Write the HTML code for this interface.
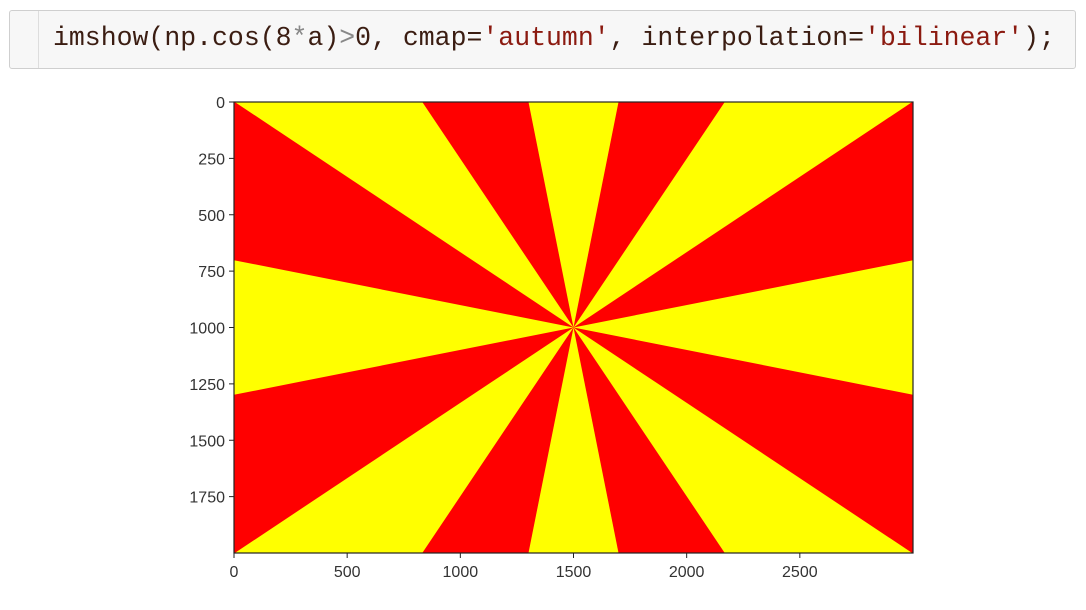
<!DOCTYPE html>
<html><head><meta charset="utf-8"><style>
html,body{margin:0;width:1086px;height:610px;overflow:hidden}
body{background:#fff;position:relative;font-family:"Liberation Sans",sans-serif}
#cell{position:absolute;left:9px;top:10px;width:1067px;height:59px;background:#f7f7f7;border:1px solid #cfcfcf;border-radius:3px;box-sizing:border-box}
#gut{position:absolute;left:28px;top:0;width:1px;height:100%;background:#ddd}
#code{position:absolute;left:43px;top:12px;font-family:"Liberation Mono",monospace;font-size:26.5px;color:#3b1d12;white-space:pre}
.op{color:#888}.str{color:#8b1a10}
#chart{position:absolute;left:0;top:0;display:block}
</style></head><body>
<div id="cell"><div id="gut"></div>
<div id="code">imshow(np.cos(8<span class="op">*</span>a)<span class="op">&gt;</span>0, cmap=<span class="str">'autumn'</span>, interpolation=<span class="str">'bilinear'</span>);</div></div>
<svg id="chart" width="1086" height="610"></svg>
<script>
const imgWidth = 3000;
const imgHeight = 2000;
const centerX = 1500;
const centerY = 1000;
const frequency = 8;
const xTicks = [0, 500, 1000, 1500, 2000, 2500];
const yTicks = [0, 250, 500, 750, 1000, 1250, 1500, 1750];
const NS = "http://www.w3.org/2000/svg";
const L = 234, R = 913, T = 102, B = 553;
const sx = v => L + v / imgWidth * (R - L);
const sy = v => T + v / imgHeight * (B - T);
const svg = document.getElementById('chart');
function mk(tag, attrs) { const e = document.createElementNS(NS, tag); for (const k in attrs) e.setAttribute(k, attrs[k]); svg.appendChild(e); return e; }
const bg = mk('rect', { x: L, y: T, width: R - L, height: B - T, fill: '#ff0000' });


function rayHit(a) {
  const dx = Math.cos(a), dy = Math.sin(a);
  let t = Infinity;
  if (dx > 1e-9) t = Math.min(t, (imgWidth - centerX) / dx);
  if (dx < -1e-9) t = Math.min(t, (0 - centerX) / dx);
  if (dy > 1e-9) t = Math.min(t, (imgHeight - centerY) / dy);
  if (dy < -1e-9) t = Math.min(t, (0 - centerY) / dy);
  return [centerX + t * dx, centerY + t * dy];
}
const corners = [[imgWidth, imgHeight], [0, imgHeight], [0, 0], [imgWidth, 0]];
const norm = a => { while (a < 0) a += 2 * Math.PI; while (a >= 2 * Math.PI) a -= 2 * Math.PI; return a; };
const step = Math.PI / frequency;
for (let k = 0; k < frequency; k++) {
  const mid = k * 2 * Math.PI / frequency;
  const a0 = mid - step / 2, a1 = mid + step / 2;
  const pts = [[centerX, centerY], rayHit(a0)];
  const cs = corners.map(c => [c, norm(Math.atan2(c[1] - centerY, c[0] - centerX) - a0)])
    .filter(o => o[1] > 0 && o[1] < step).sort((p, q) => p[1] - q[1]);
  cs.forEach(o => pts.push(o[0]));
  pts.push(rayHit(a1));
  const p = document.createElementNS(NS, 'polygon');
  p.setAttribute('points', pts.map(q => sx(q[0]) + ',' + sy(q[1])).join(' '));
  p.setAttribute('fill', '#ffff00');
  
  
  svg.appendChild(p);
}
const fr = mk('rect', { x: L, y: T, width: R - L, height: B - T, fill: 'none', stroke: '#222', 'stroke-width': 1.2 });


xTicks.forEach(v => {
  const x = sx(v);
  const t = mk('line', { x1: x, x2: x, y1: B, y2: B + 5, stroke: '#222' });
  
  
  const tx = mk('text', { x: x, y: B + 24, 'text-anchor': 'middle', 'font-size': 16, fill: '#333' });
  tx.textContent = v;
  
  
});
yTicks.forEach(v => {
  const y = sy(v);
  const t = mk('line', { x1: L - 5, x2: L, y1: y, y2: y, stroke: '#222' });
  
  
  const tx = mk('text', { x: L - 9, y: y + 6, 'text-anchor': 'end', 'font-size': 16, fill: '#333' });
  tx.textContent = v;
  
  
});
</script>
</body></html>
